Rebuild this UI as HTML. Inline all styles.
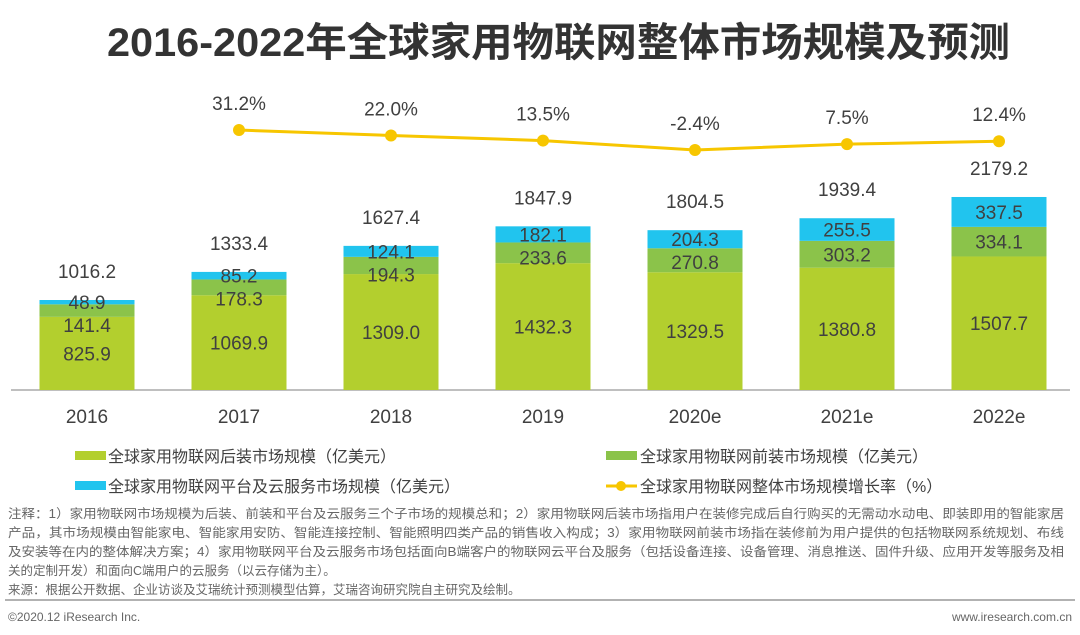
<!DOCTYPE html>
<html><head><meta charset="utf-8"><style>
body{margin:0;background:#fff;width:1080px;height:635px;overflow:hidden;font-family:"Liberation Sans","Noto Sans CJK SC",sans-serif}
svg{display:block}
</style></head><body>
<svg id="chart" width="1080" height="635">
<text x="107" y="56" textLength="903" lengthAdjust="spacingAndGlyphs" font-size="40" font-weight="bold" fill="#333" font-family="Liberation Sans,Noto Sans CJK SC,sans-serif">2016-2022年全球家用物联网整体市场规模及预测</text>
<line x1="11" y1="390" x2="1070" y2="390" stroke="#aaa" stroke-width="1.5"/>
<g id="bars"></g><g id="line"></g>
<g font-size="16" fill="#404040" font-family="Liberation Sans,Noto Sans CJK SC,sans-serif">
<rect x="75" y="451" width="31" height="9" fill="#b3cf2e"/>
<text x="108" y="462">全球家用物联网后装市场规模（亿美元）</text>
<rect x="606" y="451" width="31" height="9" fill="#8bc34a"/>
<text x="640" y="462">全球家用物联网前装市场规模（亿美元）</text>
<rect x="75" y="481" width="31" height="9" fill="#21c4ee"/>
<text x="108" y="492">全球家用物联网平台及云服务市场规模（亿美元）</text>
<line x1="606" y1="486" x2="637" y2="486" stroke="#f7c600" stroke-width="3"/><circle cx="621" cy="486" r="5" fill="#f7c600"/>
<text x="640" y="492">全球家用物联网整体市场规模增长率（%）</text>
</g>
<g font-size="12.5" fill="#666" font-family="Liberation Sans,Noto Sans CJK SC,sans-serif">
<text x="8" y="518" textLength="1056" lengthAdjust="spacingAndGlyphs">注释：1）家用物联网市场规模为后装、前装和平台及云服务三个子市场的规模总和；2）家用物联网后装市场指用户在装修完成后自行购买的无需动水动电、即装即用的智能家居</text>
<text x="8" y="537" textLength="1056" lengthAdjust="spacingAndGlyphs">产品，其市场规模由智能家电、智能家用安防、智能连接控制、智能照明四类产品的销售收入构成；3）家用物联网前装市场指在装修前为用户提供的包括物联网系统规划、布线</text>
<text x="8" y="556" textLength="1056" lengthAdjust="spacingAndGlyphs">及安装等在内的整体解决方案；4）家用物联网平台及云服务市场包括面向B端客户的物联网云平台及服务（包括设备连接、设备管理、消息推送、固件升级、应用开发等服务及相</text>
<text x="8" y="575">关的定制开发）和面向C端用户的云服务（以云存储为主）。</text>
<text x="8" y="594">来源：根据公开数据、企业访谈及艾瑞统计预测模型估算，艾瑞咨询研究院自主研究及绘制。</text>
</g>
<line x1="5" y1="600" x2="1075" y2="600" stroke="#999" stroke-width="1.5"/>
<text x="8" y="621" font-size="12" fill="#666">©2020.12 iResearch Inc.</text>
<text x="1072" y="621" font-size="12" fill="#666" text-anchor="end">www.iresearch.com.cn</text>
</svg>
<script>
const categories=["2016","2017","2018","2019","2020e","2021e","2022e"];
const afterMarket=[825.9,1069.9,1309.0,1432.3,1329.5,1380.8,1507.7];
const preMarket=[141.4,178.3,194.3,233.6,270.8,303.2,334.1];
const cloudMarket=[48.9,85.2,124.1,182.1,204.3,255.5,337.5];
const totals=["1016.2","1333.4","1627.4","1847.9","1804.5","1939.4","2179.2"];
const growth=[31.2,22.0,13.5,-2.4,7.5,12.4];
const NS="http://www.w3.org/2000/svg";
const base=390,k=193/2179.2,bw=95;
const xc=i=>87+i*152;
const y=v=>base-v*k;
const gy=g=>148.6-g*0.595;
function mk(t,a,p){const e=document.createElementNS(NS,t);for(const n in a)e.setAttribute(n,a[n]);p.appendChild(e);return e;}
const bars=document.getElementById('bars'),ln=document.getElementById('line');
const tf="Liberation Sans,Noto Sans CJK SC,sans-serif";
categories.forEach((c,i)=>{
 const x=xc(i)-bw/2;
 const a=afterMarket[i],p=preMarket[i],cl=cloudMarket[i];
 const r1=mk('rect',{x:x,y:y(a),width:bw,height:a*k,fill:'#b3cf2e'},bars);
 
 
 const r2=mk('rect',{x:x,y:y(a+p),width:bw,height:p*k,fill:'#8bc34a'},bars);
 
 
 const r3=mk('rect',{x:x,y:y(a+p+cl),width:bw,height:cl*k,fill:'#21c4ee'},bars);
 
 
 const lab=(txt,yy,nm)=>{const t=mk('text',{x:xc(i),y:yy,'text-anchor':'middle','font-size':19,fill:'#404040','font-family':tf},bars);t.textContent=txt;
  
  };
 const cy=y(a+p+cl/2);
 const py=Math.max(y(a+p/2),cy+23);
 const ay=Math.max(y(a/2),py+28);
 lab(a.toFixed(1),ay+7,'label-aftermarket-'+c);
 lab(p.toFixed(1),py+7,'label-premarket-'+c);
 lab(cl.toFixed(1),cy+7,'label-cloud-'+c);
 lab(totals[i],y(a+p+cl)-22,'label-total-'+c);
 const xl=mk('text',{x:xc(i),y:423,'text-anchor':'middle','font-size':19,fill:'#404040','font-family':tf},bars);xl.textContent=c;
 
 
});
const pts=growth.map((g,j)=>[xc(j+1),gy(g)]);
const pl=mk('polyline',{points:pts.map(p=>p.join(',')).join(' '),fill:'none',stroke:'#f7c600','stroke-width':3},ln);


growth.forEach((g,j)=>{
 const c=mk('circle',{cx:pts[j][0],cy:pts[j][1],r:6,fill:'#f7c600'},ln);
 
 
 const t=mk('text',{x:pts[j][0],y:pts[j][1]-20,'text-anchor':'middle','font-size':19,fill:'#404040','font-family':tf},ln);
 t.textContent=g.toFixed(1)+'%';
 
 
});
</script>
</body></html>
